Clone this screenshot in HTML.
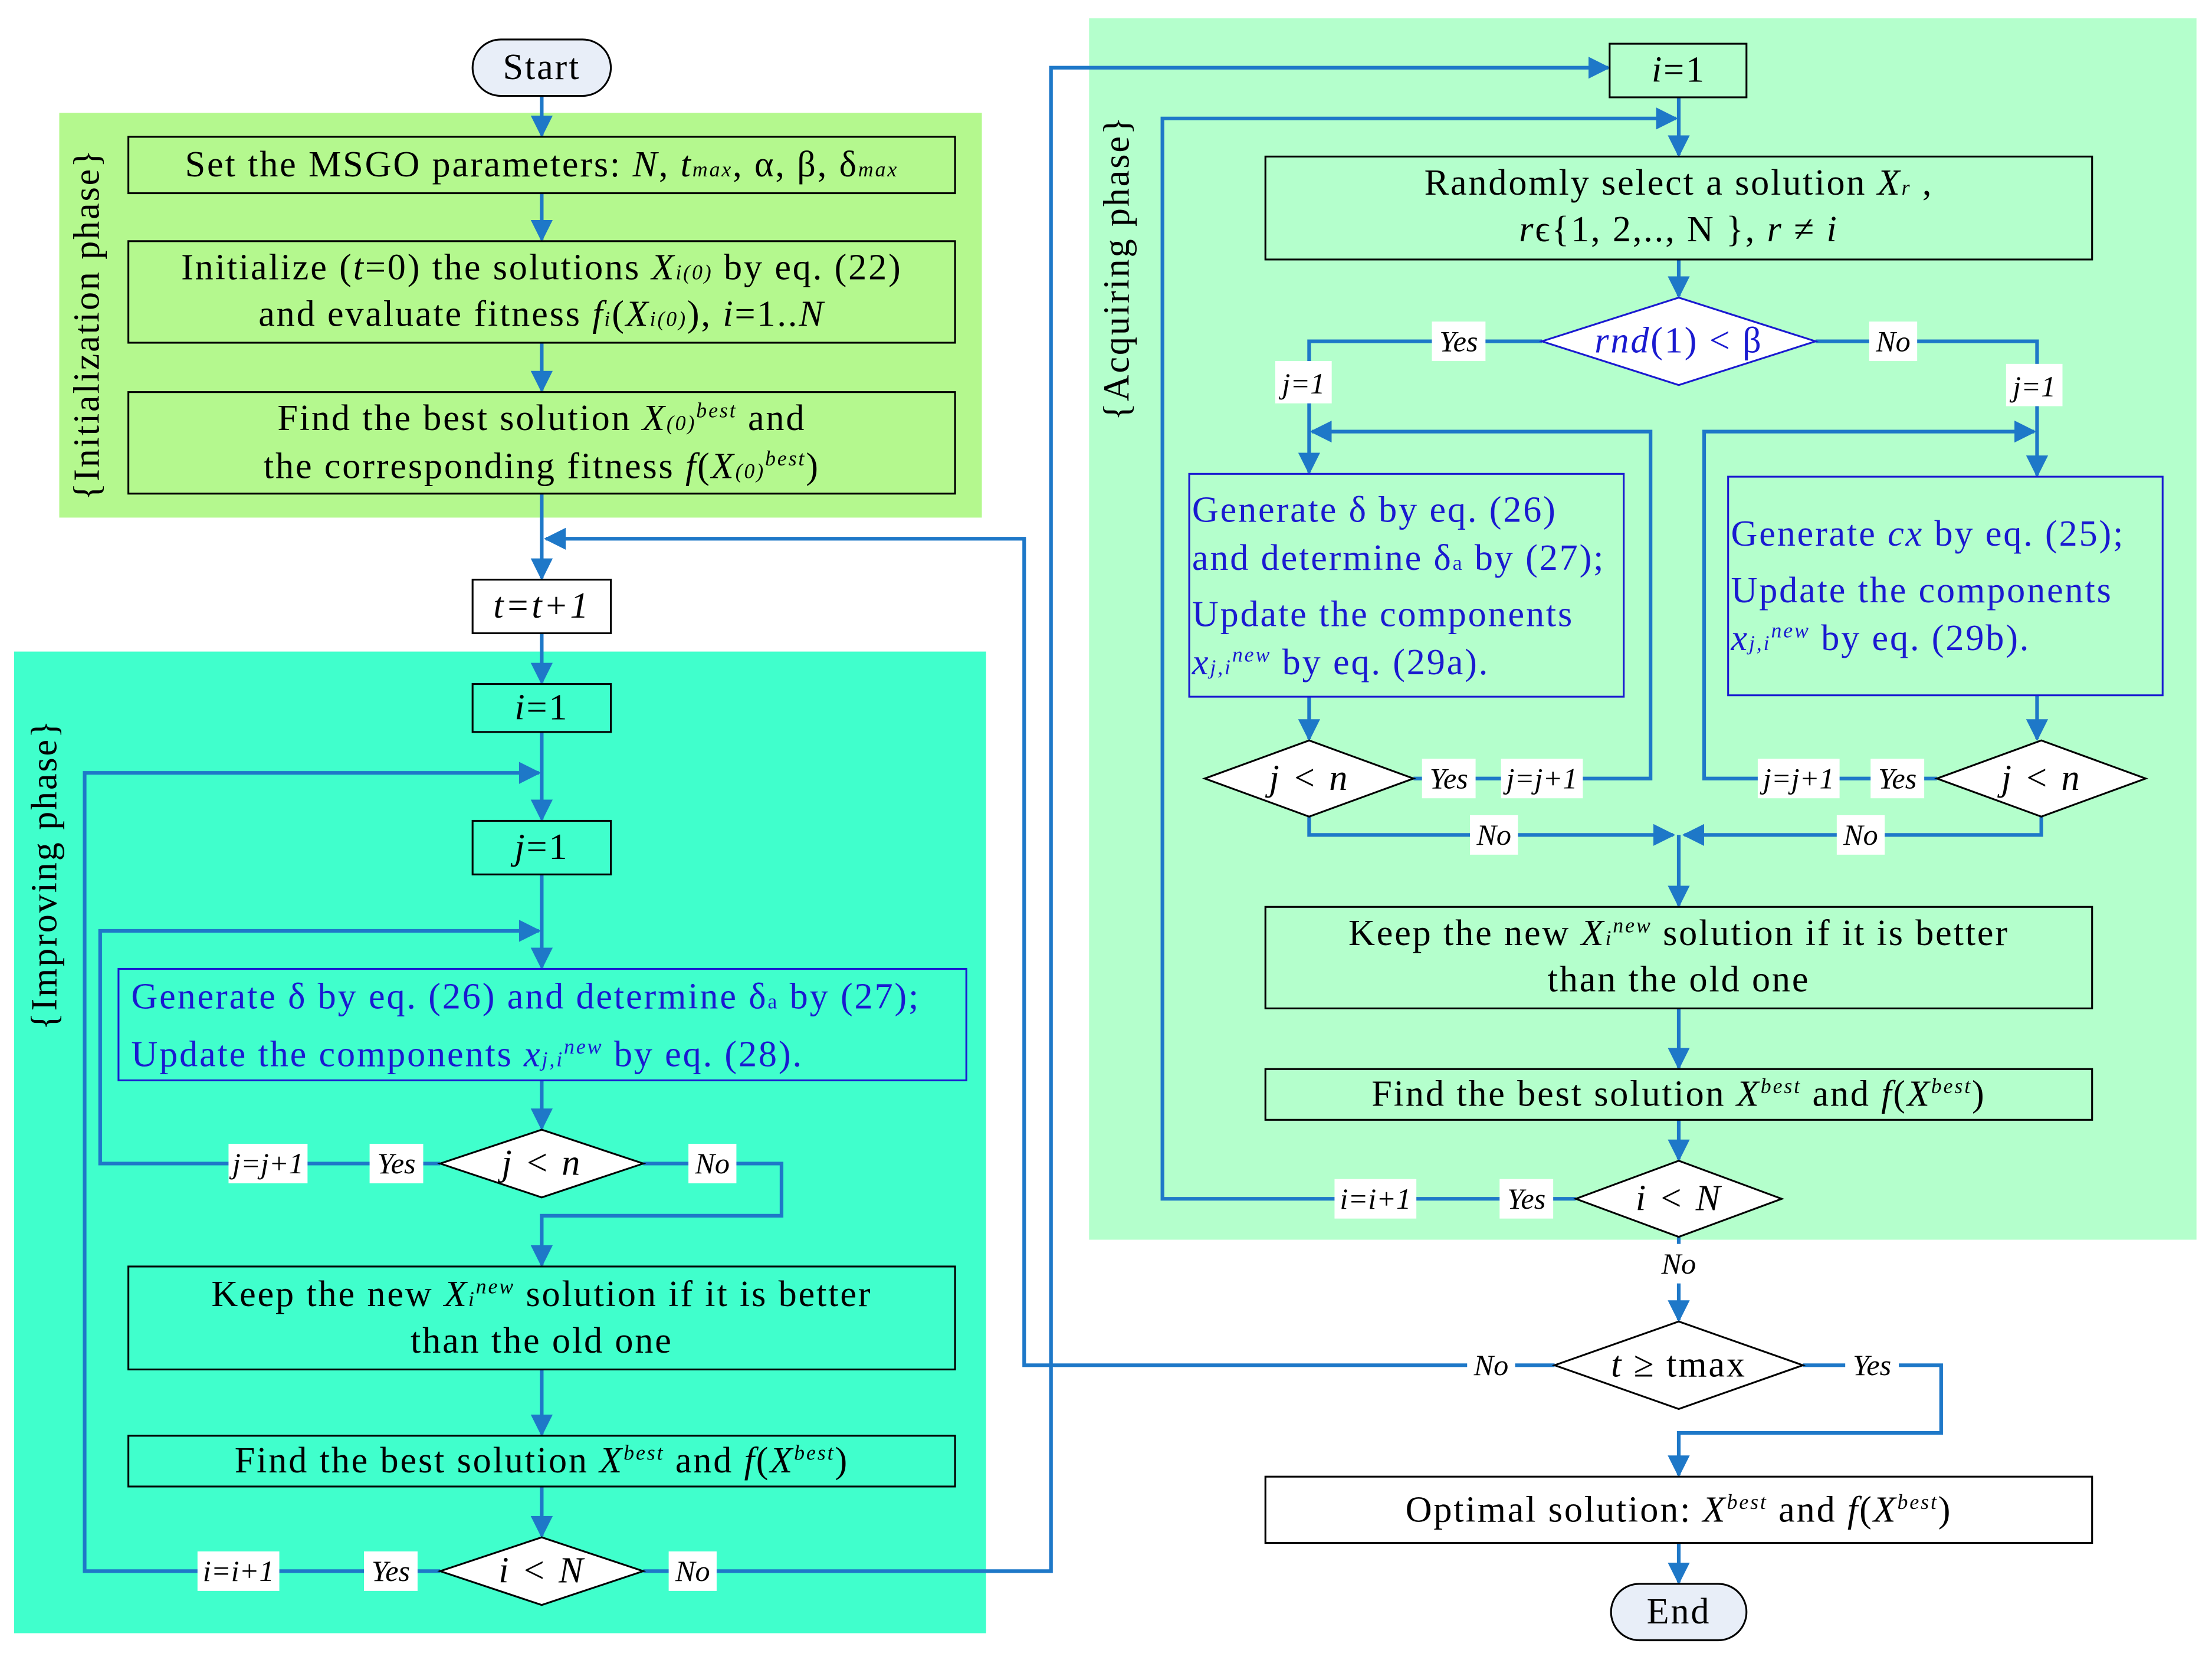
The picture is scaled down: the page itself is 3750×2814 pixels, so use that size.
<!DOCTYPE html>
<html><head><meta charset="utf-8">
<style>
html,body{margin:0;padding:0;background:#fff;}
svg{display:block;}
text{font-family:"Liberation Serif",serif;}
.t{font-size:26px;fill:#000;text-anchor:middle;letter-spacing:1.2px;}
.b{font-size:26px;fill:#1a1ad0;letter-spacing:1.2px;}
.l{font-size:21px;font-style:italic;fill:#000;text-anchor:middle;}
.ln{fill:none;stroke:#1e78c8;stroke-width:2.6;}
.bx{stroke:#000;stroke-width:1.3;}
</style></head>
<body>
<svg width="3750" height="2814" viewBox="0 0 1568 1177" preserveAspectRatio="none" xmlns="http://www.w3.org/2000/svg">
<defs>
<marker id="a" viewBox="0 0 10 10" refX="9" refY="5" markerWidth="6" markerHeight="6" orient="auto-start-reverse">
<path d="M0,0 L10,5 L0,10 z" fill="#1e78c8"/></marker>
</defs>
<rect x="42" y="80" width="654" height="287" fill="#b4f88e"/>
<rect x="10" y="462" width="689" height="696" fill="#40ffcc"/>
<rect x="772" y="13" width="785" height="866" fill="#b4ffcc"/>
<text transform="translate(70,230) rotate(-90)" class="t">{Initialization phase}</text>
<text transform="translate(40,620) rotate(-90)" class="t">{Improving phase}</text>
<text transform="translate(800,190) rotate(-90)" class="t">{Acquiring phase}</text>

<g class="ln">
<path d="M384,68 V96" marker-end="url(#a)"/>
<path d="M384,137 V170" marker-end="url(#a)"/>
<path d="M384,243 V277" marker-end="url(#a)"/>
<path d="M384,350 V410" marker-end="url(#a)"/>
<path d="M1102,968 H726 V382 H387" marker-end="url(#a)"/>
<path d="M384,449 V484" marker-end="url(#a)"/>
<path d="M384,519 V581" marker-end="url(#a)"/>
<path d="M312,1114 H60 V548 H382" marker-end="url(#a)"/>
<path d="M384,620 V686" marker-end="url(#a)"/>
<path d="M312,825 H71 V660 H382" marker-end="url(#a)"/>
<path d="M384,766 V800" marker-end="url(#a)"/>
<path d="M456,825 H554 V862 H384 V897" marker-end="url(#a)"/>
<path d="M384,971 V1017" marker-end="url(#a)"/>
<path d="M384,1054 V1089" marker-end="url(#a)"/>
<path d="M456,1114 H745 V48 H1140" marker-end="url(#a)"/>
<path d="M1190,69 V110" marker-end="url(#a)"/>
<path d="M1117,850 H824 V84 H1188" marker-end="url(#a)"/>
<path d="M1190,184 V210" marker-end="url(#a)"/>
<path d="M1093,242 H928 V335" marker-end="url(#a)"/>
<path d="M1002,552 H1170 V306 H930" marker-end="url(#a)"/>
<path d="M1287,242 H1444 V337" marker-end="url(#a)"/>
<path d="M1373,552 H1208 V306 H1442" marker-end="url(#a)"/>
<path d="M928,494 V524" marker-end="url(#a)"/>
<path d="M1444,493 V524" marker-end="url(#a)"/>
<path d="M928,579 V592 H1186" marker-end="url(#a)"/>
<path d="M1447,579 V592 H1194" marker-end="url(#a)"/>
<path d="M1190,592 V642" marker-end="url(#a)"/>
<path d="M1190,715 V757" marker-end="url(#a)"/>
<path d="M1190,794 V822" marker-end="url(#a)"/>
<path d="M1190,877 V936" marker-end="url(#a)"/>
<path d="M1278,968 H1376 V1016 H1190 V1046" marker-end="url(#a)"/>
<path d="M1190,1094 V1122" marker-end="url(#a)"/>
</g>

<rect x="335" y="28" width="98" height="40" rx="20" fill="#e8eef8" class="bx"/>
<text x="384" y="56" class="t">Start</text>
<rect x="1142" y="1123" width="96" height="40" rx="20" fill="#e8eef8" class="bx"/>
<text x="1190" y="1151" class="t">End</text>

<rect x="91" y="97" width="586" height="40" fill="#b4f88e" class="bx"/>
<text x="384" y="125" class="t">Set the MSGO parameters: <tspan font-style="italic">N</tspan>, <tspan font-style="italic">t</tspan><tspan font-style="italic" font-size="15">max</tspan>, α, β, δ<tspan font-style="italic" font-size="15">max</tspan></text>
<rect x="91" y="171" width="586" height="72" fill="#b4f88e" class="bx"/>
<text x="384" y="198" class="t">Initialize (<tspan font-style="italic">t</tspan>=0) the solutions <tspan font-style="italic">X</tspan><tspan font-style="italic" font-size="15">i(0)</tspan> by eq. (22)</text>
<text x="384" y="231" class="t">and evaluate fitness <tspan font-style="italic">f</tspan><tspan font-style="italic" font-size="15">i</tspan>(<tspan font-style="italic">X</tspan><tspan font-style="italic" font-size="15">i(0)</tspan>), <tspan font-style="italic">i</tspan>=1..<tspan font-style="italic">N</tspan></text>
<rect x="91" y="278" width="586" height="72" fill="#b4f88e" class="bx"/>
<text x="384" y="305" class="t">Find the best solution <tspan font-style="italic">X</tspan><tspan font-style="italic" font-size="15">(0)</tspan><tspan font-style="italic" font-size="15" dy="-9">best</tspan><tspan dy="9"> and</tspan></text>
<text x="384" y="339" class="t">the corresponding fitness <tspan font-style="italic">f</tspan>(<tspan font-style="italic">X</tspan><tspan font-style="italic" font-size="15">(0)</tspan><tspan font-style="italic" font-size="15" dy="-9">best</tspan><tspan dy="9">)</tspan></text>

<rect x="335" y="411" width="98" height="38" fill="#fff" class="bx"/>
<text x="384" y="438" class="t" font-style="italic">t=t+1</text>

<rect x="335" y="485" width="98" height="34" fill="#40ffcc" class="bx"/>
<text x="384" y="510" class="t"><tspan font-style="italic">i</tspan>=1</text>
<rect x="335" y="582" width="98" height="38" fill="#40ffcc" class="bx"/>
<text x="384" y="609" class="t"><tspan font-style="italic">j</tspan>=1</text>
<rect x="84" y="687" width="601" height="79" fill="#40ffcc" stroke="#1a1ad0" stroke-width="1.3"/>
<text x="93" y="715" class="b">Generate δ by eq. (26) and determine δ<tspan font-size="15">a</tspan> by (27);</text>
<text x="93" y="756" class="b">Update the components <tspan font-style="italic">x</tspan><tspan font-style="italic" font-size="15">j,i</tspan><tspan font-style="italic" font-size="15" dy="-9">new</tspan><tspan dy="9"> by eq. (28).</tspan></text>
<polygon points="312,825 384,801 456,825 384,849" fill="#fff" class="bx"/>
<text x="384" y="833" class="t" font-style="italic">j &lt; n</text>
<rect x="91" y="898" width="586" height="73" fill="#40ffcc" class="bx"/>
<text x="384" y="926" class="t">Keep the new <tspan font-style="italic">X</tspan><tspan font-style="italic" font-size="15">i</tspan><tspan font-style="italic" font-size="15" dy="-9">new</tspan><tspan dy="9"> solution if it is better</tspan></text>
<text x="384" y="959" class="t">than the old one</text>
<rect x="91" y="1018" width="586" height="36" fill="#40ffcc" class="bx"/>
<text x="384" y="1044" class="t">Find the best solution <tspan font-style="italic">X</tspan><tspan font-style="italic" font-size="15" dy="-9">best</tspan><tspan dy="9"> and </tspan><tspan font-style="italic">f</tspan>(<tspan font-style="italic">X</tspan><tspan font-style="italic" font-size="15" dy="-9">best</tspan><tspan dy="9">)</tspan></text>
<polygon points="312,1114 384,1090 456,1114 384,1138" fill="#fff" class="bx"/>
<text x="384" y="1122" class="t" font-style="italic">i &lt; N</text>

<rect x="1141" y="31" width="97" height="38" fill="#b4ffcc" class="bx"/>
<text x="1190" y="58" class="t"><tspan font-style="italic">i</tspan>=1</text>
<rect x="897" y="111" width="586" height="73" fill="#b4ffcc" class="bx"/>
<text x="1190" y="138" class="t">Randomly select a solution <tspan font-style="italic">X</tspan><tspan font-style="italic" font-size="15">r</tspan> ,</text>
<text x="1190" y="171" class="t"><tspan font-style="italic">r</tspan>ϵ{1, 2,.., N }, <tspan font-style="italic">r</tspan> ≠ <tspan font-style="italic">i</tspan></text>
<polygon points="1093,242 1190,211 1287,242 1190,273" fill="#fff" stroke="#1a1ad0" stroke-width="1.3"/>
<text x="1190" y="250" class="b" text-anchor="middle"><tspan font-style="italic">rnd</tspan>(1) &lt; β</text>
<rect x="843" y="336" width="308" height="158" fill="#b4ffcc" stroke="#1a1ad0" stroke-width="1.3"/>
<text x="845" y="370" class="b">Generate δ by eq. (26)</text>
<text x="845" y="404" class="b">and determine δ<tspan font-size="15">a</tspan> by (27);</text>
<text x="845" y="444" class="b">Update the components</text>
<text x="845" y="478" class="b"><tspan font-style="italic">x</tspan><tspan font-style="italic" font-size="15">j,i</tspan><tspan font-style="italic" font-size="15" dy="-9">new</tspan><tspan dy="9"> by eq. (29a).</tspan></text>
<rect x="1225" y="338" width="308" height="155" fill="#b4ffcc" stroke="#1a1ad0" stroke-width="1.3"/>
<text x="1227" y="387" class="b">Generate <tspan font-style="italic">cx</tspan> by eq. (25);</text>
<text x="1227" y="427" class="b">Update the components</text>
<text x="1227" y="461" class="b"><tspan font-style="italic">x</tspan><tspan font-style="italic" font-size="15">j,i</tspan><tspan font-style="italic" font-size="15" dy="-9">new</tspan><tspan dy="9"> by eq. (29b).</tspan></text>
<polygon points="854,552 928,525 1002,552 928,579" fill="#fff" class="bx"/>
<text x="928" y="560" class="t" font-style="italic">j &lt; n</text>
<polygon points="1373,552 1447,525 1521,552 1447,579" fill="#fff" class="bx"/>
<text x="1447" y="560" class="t" font-style="italic">j &lt; n</text>
<rect x="897" y="643" width="586" height="72" fill="#b4ffcc" class="bx"/>
<text x="1190" y="670" class="t">Keep the new <tspan font-style="italic">X</tspan><tspan font-style="italic" font-size="15">i</tspan><tspan font-style="italic" font-size="15" dy="-9">new</tspan><tspan dy="9"> solution if it is better</tspan></text>
<text x="1190" y="703" class="t">than the old one</text>
<rect x="897" y="758" width="586" height="36" fill="#b4ffcc" class="bx"/>
<text x="1190" y="784" class="t">Find the best solution <tspan font-style="italic">X</tspan><tspan font-style="italic" font-size="15" dy="-9">best</tspan><tspan dy="9"> and </tspan><tspan font-style="italic">f</tspan>(<tspan font-style="italic">X</tspan><tspan font-style="italic" font-size="15" dy="-9">best</tspan><tspan dy="9">)</tspan></text>
<polygon points="1117,850 1190,823 1263,850 1190,877" fill="#fff" class="bx"/>
<text x="1190" y="858" class="t" font-style="italic">i &lt; N</text>

<polygon points="1102,968 1190,937 1278,968 1190,999" fill="#fff" class="bx"/>
<text x="1190" y="976" class="t"><tspan font-style="italic">t</tspan> ≥ tmax</text>
<rect x="897" y="1047" width="586" height="47" fill="#fff" class="bx"/>
<text x="1190" y="1079" class="t">Optimal solution: <tspan font-style="italic">X</tspan><tspan font-style="italic" font-size="15" dy="-9">best</tspan><tspan dy="9"> and </tspan><tspan font-style="italic">f</tspan>(<tspan font-style="italic">X</tspan><tspan font-style="italic" font-size="15" dy="-9">best</tspan><tspan dy="9">)</tspan></text>

<g>
<rect x="262" y="811" width="38" height="28" fill="#fff"/><text x="281" y="832" class="l">Yes</text>
<rect x="162" y="811" width="56" height="28" fill="#fff"/><text x="190" y="832" class="l">j=j+1</text>
<rect x="488" y="811" width="34" height="28" fill="#fff"/><text x="505" y="832" class="l">No</text>
<rect x="258" y="1100" width="38" height="28" fill="#fff"/><text x="277" y="1121" class="l">Yes</text>
<rect x="140" y="1100" width="58" height="28" fill="#fff"/><text x="169" y="1121" class="l">i=i+1</text>
<rect x="474" y="1100" width="34" height="28" fill="#fff"/><text x="491" y="1121" class="l">No</text>
<rect x="1015" y="228" width="38" height="28" fill="#fff"/><text x="1034" y="249" class="l">Yes</text>
<rect x="1325" y="228" width="34" height="28" fill="#fff"/><text x="1342" y="249" class="l">No</text>
<rect x="904" y="256" width="40" height="30" fill="#fff"/><text x="924" y="279" class="l">j=1</text>
<rect x="1422" y="258" width="40" height="30" fill="#fff"/><text x="1442" y="281" class="l">j=1</text>
<rect x="1008" y="538" width="38" height="28" fill="#fff"/><text x="1027" y="559" class="l">Yes</text>
<rect x="1064" y="538" width="58" height="28" fill="#fff"/><text x="1093" y="559" class="l">j=j+1</text>
<rect x="1326" y="538" width="38" height="28" fill="#fff"/><text x="1345" y="559" class="l">Yes</text>
<rect x="1246" y="538" width="58" height="28" fill="#fff"/><text x="1275" y="559" class="l">j=j+1</text>
<rect x="1042" y="578" width="34" height="28" fill="#fff"/><text x="1059" y="599" class="l">No</text>
<rect x="1302" y="578" width="34" height="28" fill="#fff"/><text x="1319" y="599" class="l">No</text>
<rect x="1063" y="836" width="38" height="28" fill="#fff"/><text x="1082" y="857" class="l">Yes</text>
<rect x="946" y="836" width="58" height="28" fill="#fff"/><text x="975" y="857" class="l">i=i+1</text>
<rect x="1173" y="882" width="34" height="28" fill="#fff"/><text x="1190" y="903" class="l">No</text>
<rect x="1040" y="954" width="34" height="28" fill="#fff"/><text x="1057" y="975" class="l">No</text>
<rect x="1308" y="954" width="38" height="28" fill="#fff"/><text x="1327" y="975" class="l">Yes</text>
</g>
</svg>
</body></html>
